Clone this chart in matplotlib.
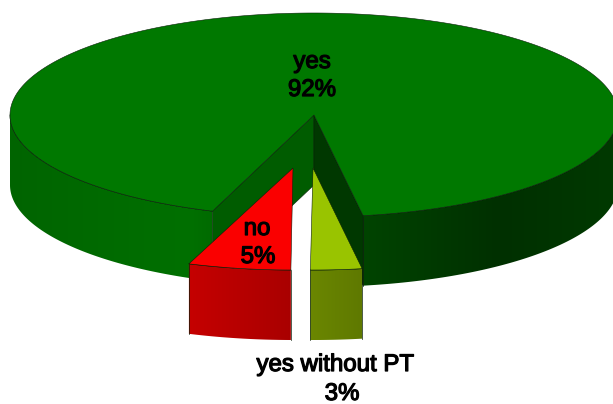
import numpy as np
import matplotlib
matplotlib.use("Agg")
import matplotlib.pyplot as plt
from matplotlib.colors import LinearSegmentedColormap, to_rgb
from matplotlib.patches import Polygon
import matplotlib.patheffects as pe

# Data
categories = ["yes without PT", "no", "yes"]
shares = [3, 5, 92]

# Style / layout of the exploded 3D pie
RX, RY, DEPTH = 304, 102, 70
APEX = {"yes": (314, 115), "no": (293, 168), "yes without PT": (313, 168)}
START = {"yes": -19.5, "no": -0.4, "yes without PT": 9.3}   # degrees right of straight down
STRETCH = {"yes": 1.0, "no": 1.09, "yes without PT": 0.907}  # apparent widening by perspective
TOP = {"yes": "#007800", "no": "#fa0000", "yes without PT": "#99c400"}
SIDE = {
    "yes": [(5, "#006400"), (190, "#007000"), (362, "#004400"), (500, "#003000"), (625, "#003a00")],
    "no": [(185, "#c60000"), (296, "#a80000")],
    "yes without PT": [(305, "#6c8800"), (366, "#5e7800")],
}
CUT_LEFT = "#005c00"
CUT_RIGHT = "#003800"
EDGE = "#0a200a"

plt.rcParams["font.family"] = ["Liberation Sans", "DejaVu Sans"]
fig = plt.figure(figsize=(6.13, 4.04), dpi=100)
ax = fig.add_axes([0, 0, 1, 1])

spans = {}
for c, s in zip(categories, shares):
    spans[c] = (START[c], START[c] - s * 3.6 * STRETCH[c])


def pt(c, t):
    a = np.radians(t)
    x0, y0 = APEX[c]
    return np.array([x0 + RX * np.sin(a), y0 + RY * np.cos(a)])


def draw_side(c, t0, t1, z):
    ts = np.linspace(t0, t1, max(2, int(abs(t1 - t0) * 3)))
    top = np.array([pt(c, a) for a in ts])
    outline = np.vstack([top, top[::-1] + (0, DEPTH)])
    stops = SIDE[c]
    x0, x1 = stops[0][0], stops[-1][0]
    cmap = LinearSegmentedColormap.from_list(
        "s", [((x - x0) / (x1 - x0), to_rgb(col)) for x, col in stops])
    poly = Polygon(outline, closed=True, facecolor="none", edgecolor="none", zorder=z)
    ax.add_patch(poly)
    im = ax.imshow(np.linspace(0, 1, 256)[None, :], extent=(x0, x1, 404, 0), cmap=cmap,
                   aspect="auto", zorder=z, interpolation="bilinear")
    im.set_clip_path(poly)
    ax.plot(top[:, 0], top[:, 1], color=EDGE, lw=0.5, zorder=z + 0.2)
    for a in (t0, t1):
        if abs(a) < 90:
            p = pt(c, a)
            ax.plot([p[0], p[0]], [p[1], p[1] + DEPTH], color=EDGE, lw=0.5, zorder=z + 0.2)


def draw_cut(c, t, color, z):
    p = pt(c, t)
    o = np.array(APEX[c], float)
    ax.add_patch(Polygon([o, p, p + (0, DEPTH), o + (0, DEPTH)], closed=True,
                         facecolor=color, edgecolor=EDGE, lw=0.4, zorder=z))


def draw_top(c, z):
    t0, t1 = spans[c]
    ts = np.linspace(t0, t1, max(2, int(abs(t1 - t0) * 2)))
    pts = [APEX[c]] + [pt(c, a) for a in ts]
    ax.add_patch(Polygon(pts, closed=True, facecolor=TOP[c], edgecolor=EDGE, lw=0.4, zorder=z))


# Main slice: near-side wall, notch faces, top
t0, t1 = spans["yes"]
draw_side("yes", t0, -90, 1)
draw_side("yes", t1 + 360, 90, 1)
draw_cut("yes", t0, CUT_LEFT, 2)
draw_cut("yes", t1 + 360, CUT_RIGHT, 2)
draw_top("yes", 3)

# Exploded slices
draw_side("no", *spans["no"], 5)
draw_top("no", 6)
draw_side("yes without PT", *spans["yes without PT"], 5)
draw_top("yes without PT", 6)

# Labels
kw = dict(ha="center", va="center", fontsize=17.3, color="black", zorder=10,
          path_effects=[pe.withStroke(linewidth=0.9, foreground="black")])
ax.text(312, 62, categories[2], **kw)
ax.text(312, 90, f"{shares[2]}%", **kw)
ax.text(257, 229, categories[1], **kw)
ax.text(258, 257, f"{shares[1]}%", **kw)
ax.text(335, 365, categories[0], **kw)
ax.text(342, 394, f"{shares[0]}%", **kw)

ax.set_xlim(0, 613)
ax.set_ylim(404, 0)
ax.axis("off")
fig.savefig("out.png", dpi=100)
